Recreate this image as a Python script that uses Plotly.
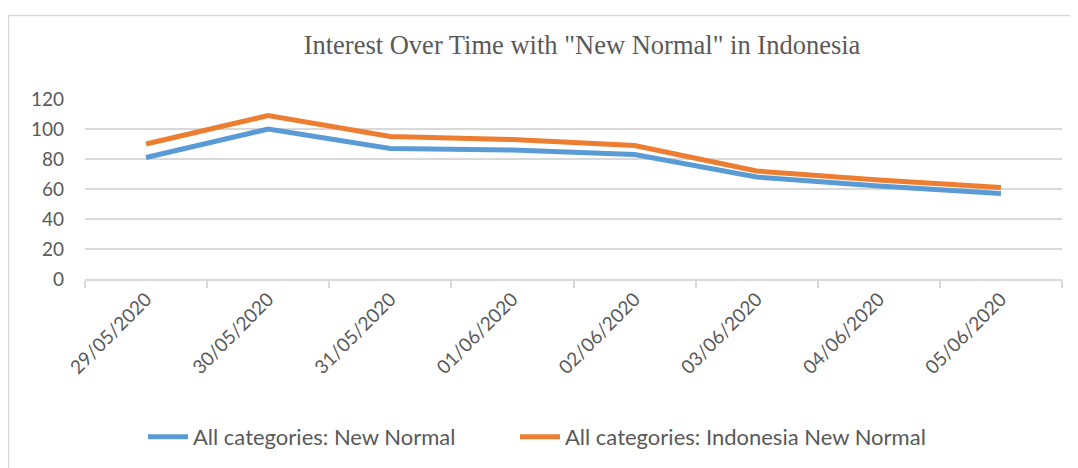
import plotly.graph_objects as go

dates = ["29/05/2020", "30/05/2020", "31/05/2020", "01/06/2020",
         "02/06/2020", "03/06/2020", "04/06/2020", "05/06/2020"]
new_normal = [81, 100, 87, 86, 83, 68, 62, 57]
indonesia_new_normal = [90, 109, 95, 93, 89, 72, 66, 61]

title_text = 'Interest Over Time with "New Normal" in Indonesia'
name_blue = "All categories: New Normal"
name_orange = "All categories: Indonesia New Normal"

text_color = "#595959"
grid_color = "#d9d9d9"

fig = go.Figure()
fig.add_trace(go.Scatter(x=dates, y=new_normal, mode="lines", name=name_blue,
                         line=dict(color="#5B9BD5", width=5), legend="legend"))
fig.add_trace(go.Scatter(x=dates, y=indonesia_new_normal, mode="lines", name=name_orange,
                         line=dict(color="#ED7D31", width=5), legend="legend2"))

# page body has an 8px margin: figure coords = screen coords - 8
OFF = 8
W, H = 1070, 460
L, R, T, B = 85 - OFF, 16, 99 - OFF, 188
pw, ph = W - L - R, H - T - B

def px_x(sx):
    return (sx - OFF - L) / pw

def px_y(sy):
    return (H - B - (sy - OFF)) / ph

legend_common = dict(orientation="h", xanchor="left", y=px_y(437), yanchor="middle",
                     font=dict(family="Lato", size=22, color=text_color),
                     itemwidth=40, bgcolor="rgba(0,0,0,0)")

fig.update_layout(
    width=W, height=H,
    margin=dict(l=L, r=R, t=T, b=B),
    paper_bgcolor="white", plot_bgcolor="white",
    title=dict(text=title_text, x=px_x(582), xref="paper", xanchor="center",
               y=1 - (45 - OFF) / H, yanchor="middle",
               font=dict(family="Liberation Serif", size=26.5, color=text_color)),
    font=dict(family="Lato", color=text_color),
    showlegend=True,
    legend=dict(x=px_x(143), **legend_common),
    legend2=dict(x=px_x(515), **legend_common),
    shapes=[dict(type="rect", xref="paper", yref="paper",
                 x0=px_x(8.5), x1=px_x(1090), y0=px_y(480), y1=px_y(15),
                 line=dict(color="#d9d9d9", width=1.5), fillcolor="rgba(0,0,0,0)",
                 layer="below")],
)

fig.update_xaxes(type="category", range=[-0.5, 7.5], showgrid=False,
                 showline=True, linecolor=grid_color, linewidth=1.5,
                 ticks="outside", tickson="boundaries", ticklen=7,
                 tickcolor=grid_color, tickwidth=1.5,
                 tickangle=-45, tickfont=dict(family="Lato", size=19, color=text_color))
fig.update_yaxes(range=[0, 120], dtick=20, showgrid=True, gridcolor=grid_color,
                 gridwidth=1.5, zeroline=False, showline=False, ticks="",
                 ticklabelstandoff=20,
                 tickfont=dict(family="Lato", size=19, color=text_color))

fig.write_html("out.html")
